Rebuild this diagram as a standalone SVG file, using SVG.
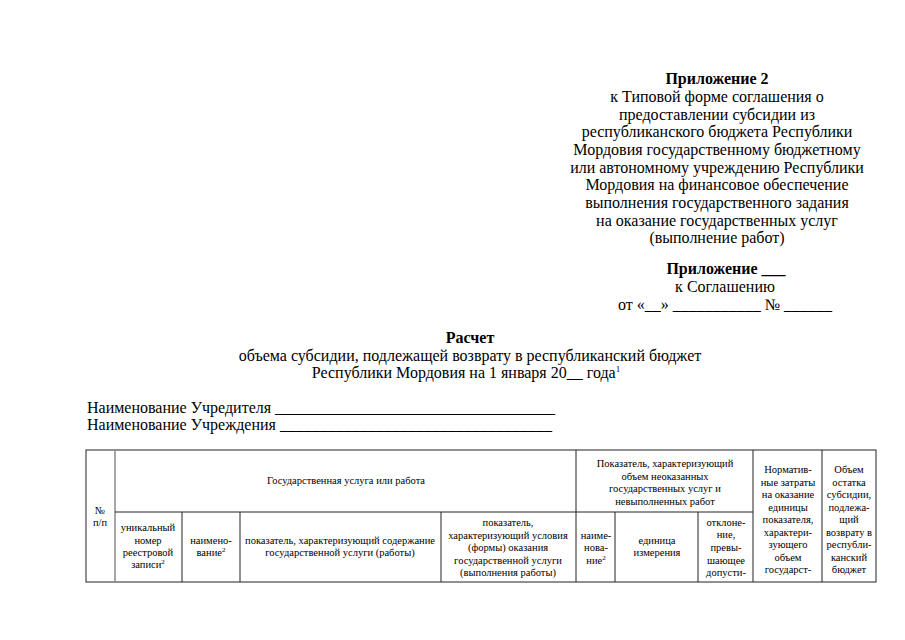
<svg xmlns="http://www.w3.org/2000/svg" width="905" height="640" viewBox="0 0 905 640">
<style>
.t{font-family:"Liberation Serif","Times New Roman",serif;font-size:16px;fill:#000}
.b{font-weight:bold}
.c{text-anchor:middle}
.s{font-family:"Liberation Serif","Times New Roman",serif;font-size:10.5px;fill:#000;text-anchor:middle}
.sup{font-size:7px}
.supl{font-size:9px}
.ln{stroke:#222;stroke-width:1;fill:none}
.lg{stroke:#888;stroke-width:1.5;fill:none}
</style>
<rect width="905" height="640" fill="#fff"/>
<g id="header">
<text class="t b c" x="717" y="84">Приложение 2</text>
<text class="t c" x="717" y="102">к Типовой форме соглашения о</text>
<text class="t c" x="717" y="119.5">предоставлении субсидии из</text>
<text class="t c" x="717" y="137">республиканского бюджета Республики</text>
<text class="t c" x="717" y="155">Мордовия государственному бюджетному</text>
<text class="t c" x="717" y="172.5">или автономному учреждению Республики</text>
<text class="t c" x="717" y="190">Мордовия на финансовое обеспечение</text>
<text class="t c" x="717" y="208">выполнения государственного задания</text>
<text class="t c" x="717" y="225.5">на оказание государственных услуг</text>
<text class="t c" x="717" y="243">(выполнение работ)</text>
</g>
<g id="agreement">
<text class="t b c" x="726" y="274">Приложение ___</text>
<text class="t c" x="725" y="292">к Соглашению</text>
<text class="t c" x="725" y="310">от «__» ___________ № ______</text>
</g>
<g id="title">
<text class="t b c" x="470" y="343">Расчет</text>
<text class="t c" x="470" y="361">объема субсидии, подлежащей возврату в республиканский бюджет</text>
<text class="t c" x="466" y="378">Республики Мордовия на 1 января 20__ года<tspan class="supl" dy="-6">1</tspan></text>
</g>
<g id="names">
<text class="t" x="87" y="413">Наименование Учредителя ___________________________________</text>
<text class="t" x="87" y="430">Наименование Учреждения __________________________________</text>
</g>
<g id="table">
<rect class="ln" x="86" y="450" width="790" height="132"/>
<line class="lg" x1="115" y1="450" x2="115" y2="582"/>
<line class="ln" x1="115" y1="512" x2="753" y2="512"/>
<line class="ln" x1="182" y1="512" x2="182" y2="582"/>
<line class="ln" x1="240" y1="512" x2="240" y2="582"/>
<line class="ln" x1="441" y1="512" x2="441" y2="582"/>
<line class="ln" x1="576" y1="450" x2="576" y2="582"/>
<line class="ln" x1="615" y1="512" x2="615" y2="582"/>
<line class="ln" x1="698" y1="512" x2="698" y2="582"/>
<line class="ln" x1="753" y1="450" x2="753" y2="582"/>
<line class="ln" x1="822" y1="450" x2="822" y2="582"/>
</g>
<g id="cell-num">
<text class="s" x="100" y="514">№</text>
<text class="s" x="100" y="526">п/п</text>
</g>
<g id="cell-service">
<text class="s" x="346" y="484">Государственная услуга или работа</text>
</g>
<g id="cell-regnum">
<text class="s" x="148" y="531">уникальный</text>
<text class="s" x="148" y="544">номер</text>
<text class="s" x="148" y="556">реестровой</text>
<text class="s" x="148" y="568">записи<tspan class="sup" dy="-4">2</tspan></text>
</g>
<g id="cell-name">
<text class="s" x="211" y="544">наимено-</text>
<text class="s" x="211" y="556">вание<tspan class="sup" dy="-4">2</tspan></text>
</g>
<g id="cell-content">
<text class="s" x="340" y="544">показатель, характеризующий содержание</text>
<text class="s" x="340" y="556">государственной услуги (работы)</text>
</g>
<g id="cell-conditions">
<text class="s" x="508" y="526">показатель,</text>
<text class="s" x="508" y="538.5">характеризующий условия</text>
<text class="s" x="508" y="551">(формы) оказания</text>
<text class="s" x="508" y="563.5">государственной услуги</text>
<text class="s" x="508" y="576">(выполнения работы)</text>
</g>
<g id="cell-volume">
<text class="s" x="665" y="467">Показатель, характеризующий</text>
<text class="s" x="665" y="479.5">объем неоказанных</text>
<text class="s" x="665" y="492">государственных услуг и</text>
<text class="s" x="665" y="504.5">невыполненных работ</text>
</g>
<g id="cell-vname">
<text class="s" x="596" y="538.5">наиме-</text>
<text class="s" x="596" y="551">нова-</text>
<text class="s" x="596" y="563.5">ние<tspan class="sup" dy="-4">2</tspan></text>
</g>
<g id="cell-unit">
<text class="s" x="657" y="544">единица</text>
<text class="s" x="657" y="556">измерения</text>
</g>
<g id="cell-deviation">
<text class="s" x="726" y="525.5">отклоне-</text>
<text class="s" x="726" y="538">ние,</text>
<text class="s" x="726" y="551">превы-</text>
<text class="s" x="726" y="563.5">шающее</text>
<text class="s" x="726" y="576">допусти-</text>
</g>
<g id="cell-norm">
<text class="s" x="788" y="473">Норматив-</text>
<text class="s" x="788" y="485.5">ные затраты</text>
<text class="s" x="788" y="498">на оказание</text>
<text class="s" x="788" y="510.5">единицы</text>
<text class="s" x="788" y="523">показателя,</text>
<text class="s" x="788" y="535.5">характери-</text>
<text class="s" x="788" y="548">зующего</text>
<text class="s" x="788" y="560.5">объем</text>
<text class="s" x="788" y="573">государст-</text>
</g>
<g id="cell-residue">
<text class="s" x="849" y="473">Объем</text>
<text class="s" x="849" y="485.5">остатка</text>
<text class="s" x="849" y="498">субсидии,</text>
<text class="s" x="849" y="510.5">подлежа-</text>
<text class="s" x="849" y="523">щий</text>
<text class="s" x="849" y="535.5">возврату в</text>
<text class="s" x="849" y="548">республи-</text>
<text class="s" x="849" y="560.5">канский</text>
<text class="s" x="849" y="573">бюджет</text>
</g>
</svg>
